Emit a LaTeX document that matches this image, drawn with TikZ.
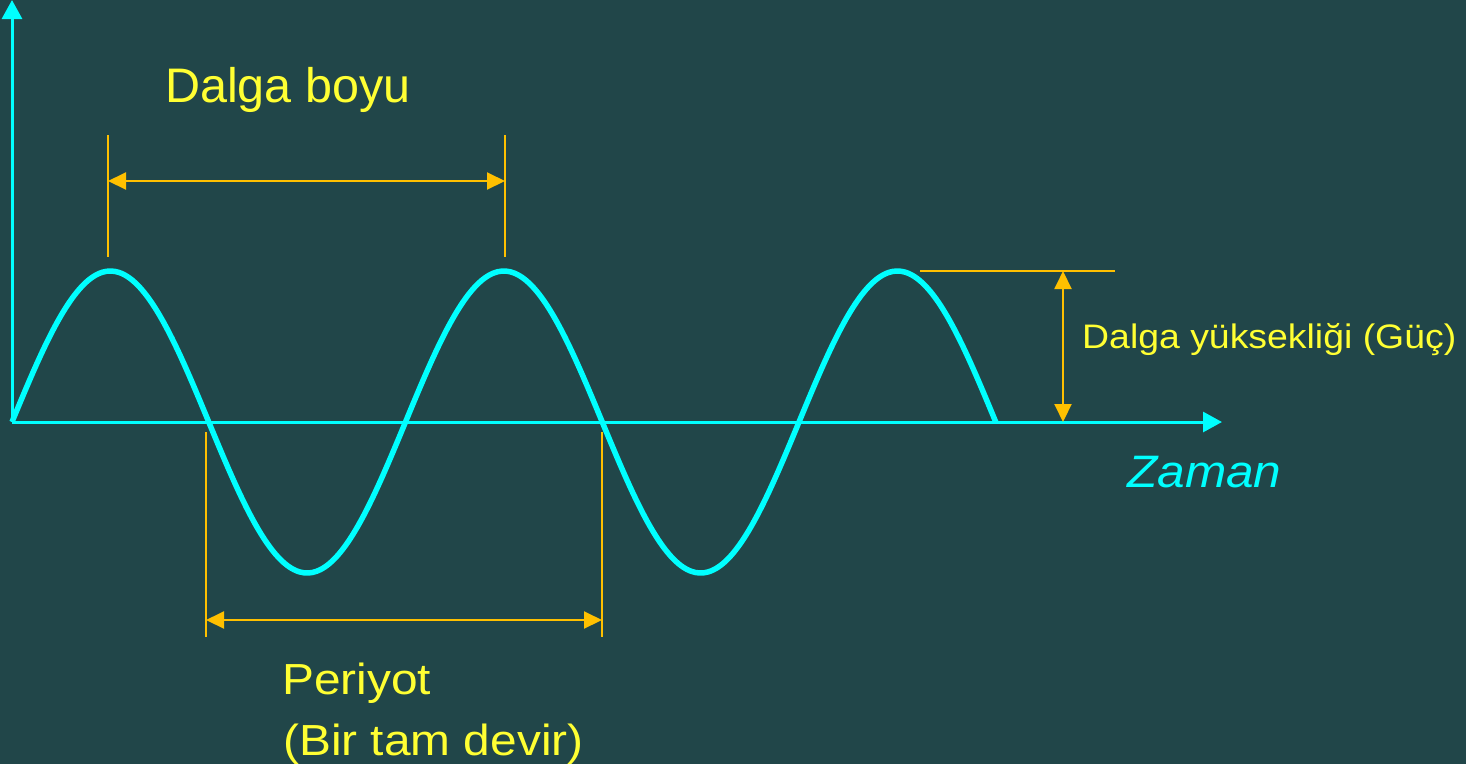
\documentclass[tikz,border=0pt]{standalone}
\usepackage{fontspec}
\usepackage{graphicx}
\setmainfont{Liberation Sans}
\usetikzlibrary{arrows.meta}
\definecolor{bg}{RGB}{33,70,73}
\definecolor{cyanc}{RGB}{0,255,255}
\definecolor{orangec}{RGB}{255,192,0}
\definecolor{textyel}{RGB}{255,255,51}
\tikzset{
  axis/.style={draw=cyanc, line width=3pt, -{Triangle[length=19pt,width=20pt]}},
  wave/.style={draw=cyanc, line width=5.5pt, line join=round},
  guide/.style={draw=orangec, line width=2pt},
  dim/.style={draw=orangec, line width=2pt, {Triangle[length=18pt,width=17pt]}-{Triangle[length=18pt,width=17pt]}},
  lbl/.style={inner sep=0pt, anchor=base west, text=textyel},
}
\begin{document}
\begin{tikzpicture}[x=1pt,y=-1pt]
\fill[bg] (0,0) rectangle (1466,764);
\useasboundingbox (0,0) rectangle (1466,764);
% axes
\coordinate (O) at (12,422);
\coordinate (Ytop) at (12,0);
\coordinate (Xend) at (1222,422);
\draw[axis] (O) -- (Ytop);
\draw[axis] (O) -- (Xend);
% wave
\draw[wave] plot[domain=12:995.75, samples=240, smooth] (\x, {422 - 151*sin((\x-12)/393.5*360)});
% wavelength
\coordinate (wl1t) at (108,135); \coordinate (wl1b) at (108,257);
\coordinate (wl2t) at (505,135); \coordinate (wl2b) at (505,257);
\coordinate (wla) at (108,181); \coordinate (wlb) at (505,181);
\draw[guide] (wl1t) -- (wl1b);
\draw[guide] (wl2t) -- (wl2b);
\draw[dim] (wla) -- (wlb);
% period
\coordinate (p1t) at (206,432); \coordinate (p1b) at (206,637);
\coordinate (p2t) at (602,432); \coordinate (p2b) at (602,637);
\coordinate (pa) at (206,620); \coordinate (pb) at (602,620);
\draw[guide] (p1t) -- (p1b);
\draw[guide] (p2t) -- (p2b);
\draw[dim] (pa) -- (pb);
% height
\coordinate (h1) at (920,271); \coordinate (h2) at (1115,271);
\coordinate (ha) at (1063,271); \coordinate (hb) at (1063,422);
\draw[guide] (h1) -- (h2);
\draw[dim] (ha) -- (hb);
% labels
\node[lbl] (dboyu) at (165,102) {\fontsize{48.5}{56}\selectfont Dalga boyu};
\node[lbl] (per) at (282,694) {\scalebox{1.1}[1]{\fontsize{43.5}{50}\selectfont Periyot}};
\node[lbl] (devir) at (283,755) {\scalebox{1.1}[1]{\fontsize{43.5}{50}\selectfont (Bir tam devir)}};
\node[lbl, text=cyanc] (zaman) at (1127,487) {\scalebox{1.09}[1]{\fontsize{45.5}{52}\selectfont\itshape Zaman}};
\node[lbl] (dyuk) at (1082,348) {\scalebox{1.1}[1]{\fontsize{34}{40}\selectfont Dalga yüksekliği (Güç)}};
\end{tikzpicture}
\end{document}
